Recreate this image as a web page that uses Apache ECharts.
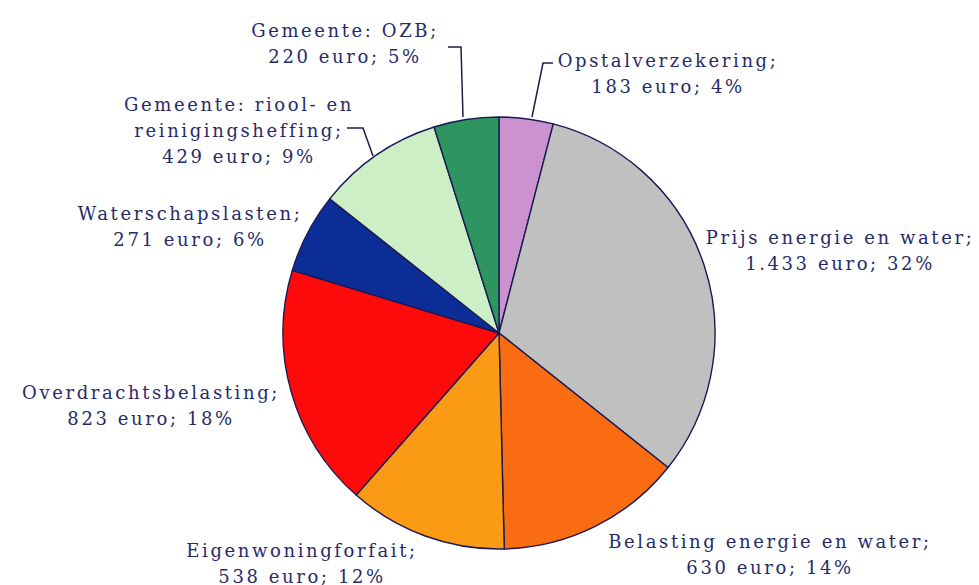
<!DOCTYPE html>
<html><head><meta charset="utf-8">
<script src="https://cdn.jsdelivr.net/npm/echarts@6/dist/echarts.min.js"></script>
<style>
html,body{margin:0;padding:0;background:#fff}
#c{width:979px;height:585px}
#c text{letter-spacing:2.6px}
</style>
</head><body><div id="c"></div>
<script>
// Data (clockwise from 12 o'clock)
const categories = ['Opstalverzekering', 'Prijs energie en water', 'Belasting energie en water', 'Eigenwoningforfait', 'Overdrachtsbelasting', 'Waterschapslasten', 'Gemeente: riool- en reinigingsheffing', 'Gemeente: OZB'];
const labelNames = ['Opstalverzekering;', 'Prijs energie en water;', 'Belasting energie en water;', 'Eigenwoningforfait;', 'Overdrachtsbelasting;', 'Waterschapslasten;', 'Gemeente: riool- en\nreinigingsheffing;', 'Gemeente: OZB;'];
const values = [183, 1433, 630, 538, 823, 271, 429, 220];

// Styles / layout
const colors = ['#cc92cf', '#c0c0c0', '#f96c12', '#fb9a14', '#ff0a0a', '#0d2d96', '#cdefc6', '#2e9560'];
const labelCenters = [[668, 73], [840, 250], [770, 554], [302, 563], [151, 405], [190, 226], [239, 130], [345, 43]];
const leaderLines = [
  [[553, 63], [543, 63], [532, 117]],
  null, null, null, null, null,
  [[347, 128], [363, 128], [373, 156]],
  [[448, 47], [461, 47], [463, 117]]
];

function fmtNL(v) { return String(v).replace(/\B(?=(\d{3})+(?!\d))/g, '.'); }

const chart = echarts.init(document.getElementById('c'), null, { renderer: 'svg' });
chart.setOption({
  backgroundColor: '#ffffff',
  animation: false,
  series: [{
    type: 'pie',
    center: [499, 333],
    radius: 216,
    startAngle: 90,
    clockwise: true,
    avoidLabelOverlap: false,
    percentPrecision: 0,
    itemStyle: { borderColor: '#1a1a55', borderWidth: 1.4 },
    label: {
      show: true,
      position: 'outside',
      fontFamily: 'DejaVu Serif',
      fontSize: 18,
      lineHeight: 26,
      color: '#262b68',
      align: 'center',
      formatter: function (p) {
        return labelNames[p.dataIndex] + '\n' + fmtNL(p.value) + ' euro; ' + p.percent + '%';
      }
    },
    labelLine: { show: true, lineStyle: { color: '#1c1c4c', width: 1.5 } },
    labelLayout: function (p) {
      const i = p.dataIndex;
      const o = { x: labelCenters[i][0], y: labelCenters[i][1], align: 'center', verticalAlign: 'middle' };
      if (leaderLines[i]) o.labelLinePoints = leaderLines[i];
      return o;
    },
    data: categories.map(function (c, i) {
      return {
        name: c,
        value: values[i],
        itemStyle: { color: colors[i] },
        labelLine: { show: !!leaderLines[i] }
      };
    })
  }]
});
</script>
</body></html>
